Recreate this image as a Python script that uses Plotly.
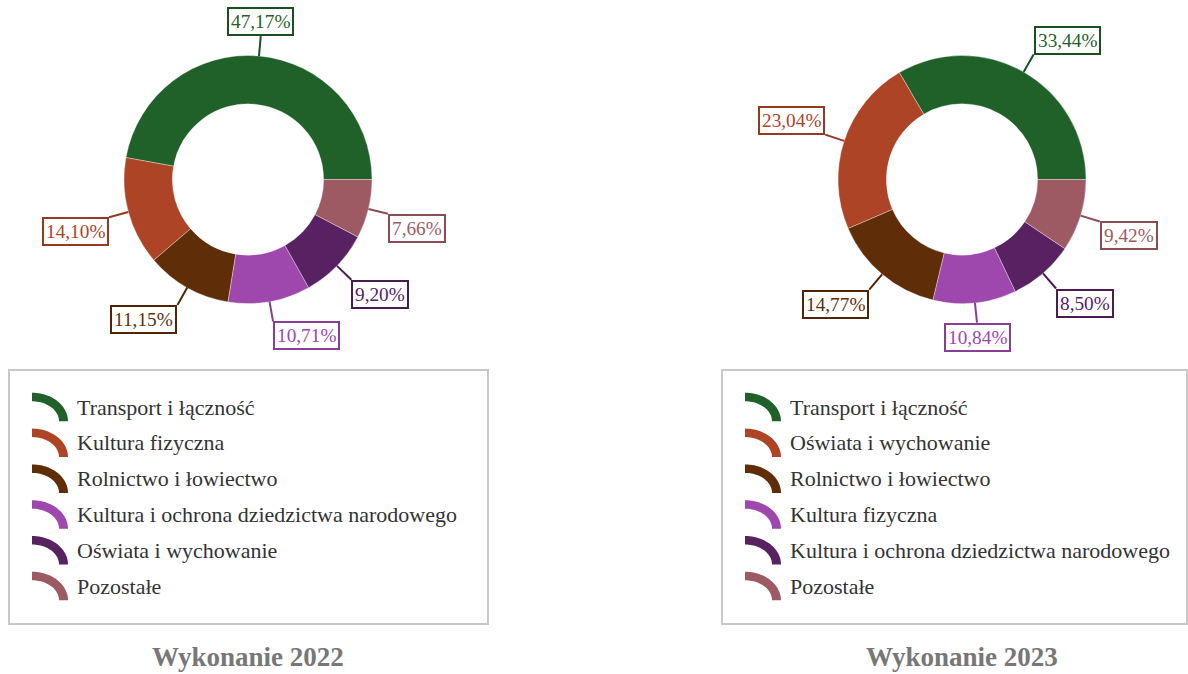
import math
import plotly.graph_objects as go

# ---- data -------------------------------------------------------------
categories_2022 = [
    "Transport i łączność",
    "Kultura fizyczna",
    "Rolnictwo i łowiectwo",
    "Kultura i ochrona dziedzictwa narodowego",
    "Oświata i wychowanie",
    "Pozostałe",
]
shares_2022 = [47.17, 14.10, 11.15, 10.71, 9.20, 7.66]

categories_2023 = [
    "Transport i łączność",
    "Oświata i wychowanie",
    "Rolnictwo i łowiectwo",
    "Kultura fizyczna",
    "Kultura i ochrona dziedzictwa narodowego",
    "Pozostałe",
]
shares_2023 = [33.44, 23.04, 14.77, 10.84, 8.50, 9.42]

titles = ["Wykonanie 2022", "Wykonanie 2023"]

# ---- style ------------------------------------------------------------
W, H = 1188, 674
SERIF = "Liberation Serif, Times New Roman, serif"
slice_colors = ["#1F6129", "#AD4426", "#5F2E08", "#9E47AD", "#582262", "#9E5A63"]
border_colors = ["#1A4F22", "#943A20", "#4E2606", "#8A3D97", "#4A1C52", "#8A4D55"]

R_OUT = 124
HOLE = 0.61
LEAD = 20


def fmt(v):
    return f"{v:.2f}".replace(".", ",") + "%"


fig = go.Figure()
shapes = []
annotations = []

panels = [
    dict(cx=248, cy=179.5, cats=categories_2022, vals=shares_2022,
         box=(9, 370, 488, 624), title=titles[0]),
    dict(cx=962, cy=179.5, cats=categories_2023, vals=shares_2023,
         box=(722, 370, 1187, 624), title=titles[1]),
]

for p in panels:
    cx, cy, vals, cats = p["cx"], p["cy"], p["vals"], p["cats"]
    total = sum(vals)
    first_span = 360.0 * vals[0] / total
    # counterclockwise pies in plotly put the first slice clockwise of the
    # rotation point, so shift it to make the first slice begin at 3 o'clock
    fig.add_trace(go.Pie(
        labels=cats,
        values=vals,
        sort=False,
        direction="counterclockwise",
        rotation=90 - first_span,
        hole=HOLE,
        textinfo="none",
        hoverinfo="label+percent",
        showlegend=False,
        marker=dict(colors=slice_colors,
                    line=dict(color="rgba(255,255,255,0.35)", width=1)),
        domain=dict(x=[(cx - R_OUT) / W, (cx + R_OUT) / W],
                    y=[1 - (cy + R_OUT) / H, 1 - (cy - R_OUT) / H]),
    ))

    # value callouts: leader line from the slice rim to a framed label
    start = 0.0
    for i, v in enumerate(vals):
        span = 360.0 * v / total
        mid = math.radians(start + span / 2)
        start += span
        dx, dy = math.cos(mid), -math.sin(mid)
        x0, y0 = cx + R_OUT * dx, cy + R_OUT * dy
        x1, y1 = x0 + LEAD * dx, y0 + LEAD * dy
        shapes.append(dict(type="line", xref="x", yref="y",
                           x0=x0, y0=y0, x1=x1, y1=y1,
                           line=dict(color=border_colors[i], width=2),
                           layer="above"))
        if abs(dx) < 0.15:
            xanchor = "center"
        else:
            xanchor = "left" if dx > 0 else "right"
        yanchor = "top" if dy > 0 else "bottom"
        annotations.append(dict(
            x=x1, y=y1, xref="x", yref="y", showarrow=False,
            text=fmt(v), xanchor=xanchor, yanchor=yanchor,
            font=dict(family=SERIF, size=19.3, color=slice_colors[i]),
            bgcolor="white", bordercolor=border_colors[i],
            borderwidth=2, borderpad=2,
        ))

    # legend frame
    bx0, by0, bx1, by1 = p["box"]
    shapes.append(dict(type="rect", xref="x", yref="y",
                       x0=bx0, y0=by0, x1=bx1, y1=by1,
                       line=dict(color="#C8C8C8", width=2),
                       fillcolor="rgba(0,0,0,0)", layer="below"))

    # legend rows with ring-segment markers
    ix = bx0 + 23
    for i, name in enumerate(cats):
        yc = 407 + 35.8 * i
        ox, oy = ix, yc + 14.3  # corner of the quarter ring
        rxo, ryo, rxi, ryi = 36, 28.5, 27, 20
        n = 24
        pts = []
        for k in range(n + 1):
            a = math.radians(90 - 90 * k / n)
            pts.append((ox + rxo * math.cos(a), oy - ryo * math.sin(a)))
        for k in range(n + 1):
            a = math.radians(90 * k / n)
            pts.append((ox + rxi * math.cos(a), oy - ryi * math.sin(a)))
        path = "M " + " L ".join(f"{x:.2f},{y:.2f}" for x, y in pts) + " Z"
        shapes.append(dict(type="path", xref="x", yref="y", path=path,
                           fillcolor=slice_colors[i], line=dict(width=0),
                           layer="above"))
        annotations.append(dict(
            x=bx0 + 66, y=yc, xref="x", yref="y", showarrow=False,
            text=name, xanchor="left", yanchor="middle",
            font=dict(family=SERIF, size=22, color="#333333"),
        ))

    # panel caption
    annotations.append(dict(
        x=cx, y=674, xref="x", yref="y", showarrow=False,
        text=f"<b>{p['title']}</b>", xanchor="center", yanchor="bottom",
        font=dict(family=SERIF, size=27, color="#777777"),
    ))

fig.update_layout(
    width=W, height=H, autosize=False,
    margin=dict(l=0, r=0, t=0, b=0),
    paper_bgcolor="white", plot_bgcolor="rgba(0,0,0,0)",
    xaxis=dict(range=[0, W], visible=False, fixedrange=True, domain=[0, 1]),
    yaxis=dict(range=[H, 0], visible=False, fixedrange=True, domain=[0, 1]),
    shapes=shapes,
    annotations=annotations,
    showlegend=False,
)

fig.write_html("out.html")
